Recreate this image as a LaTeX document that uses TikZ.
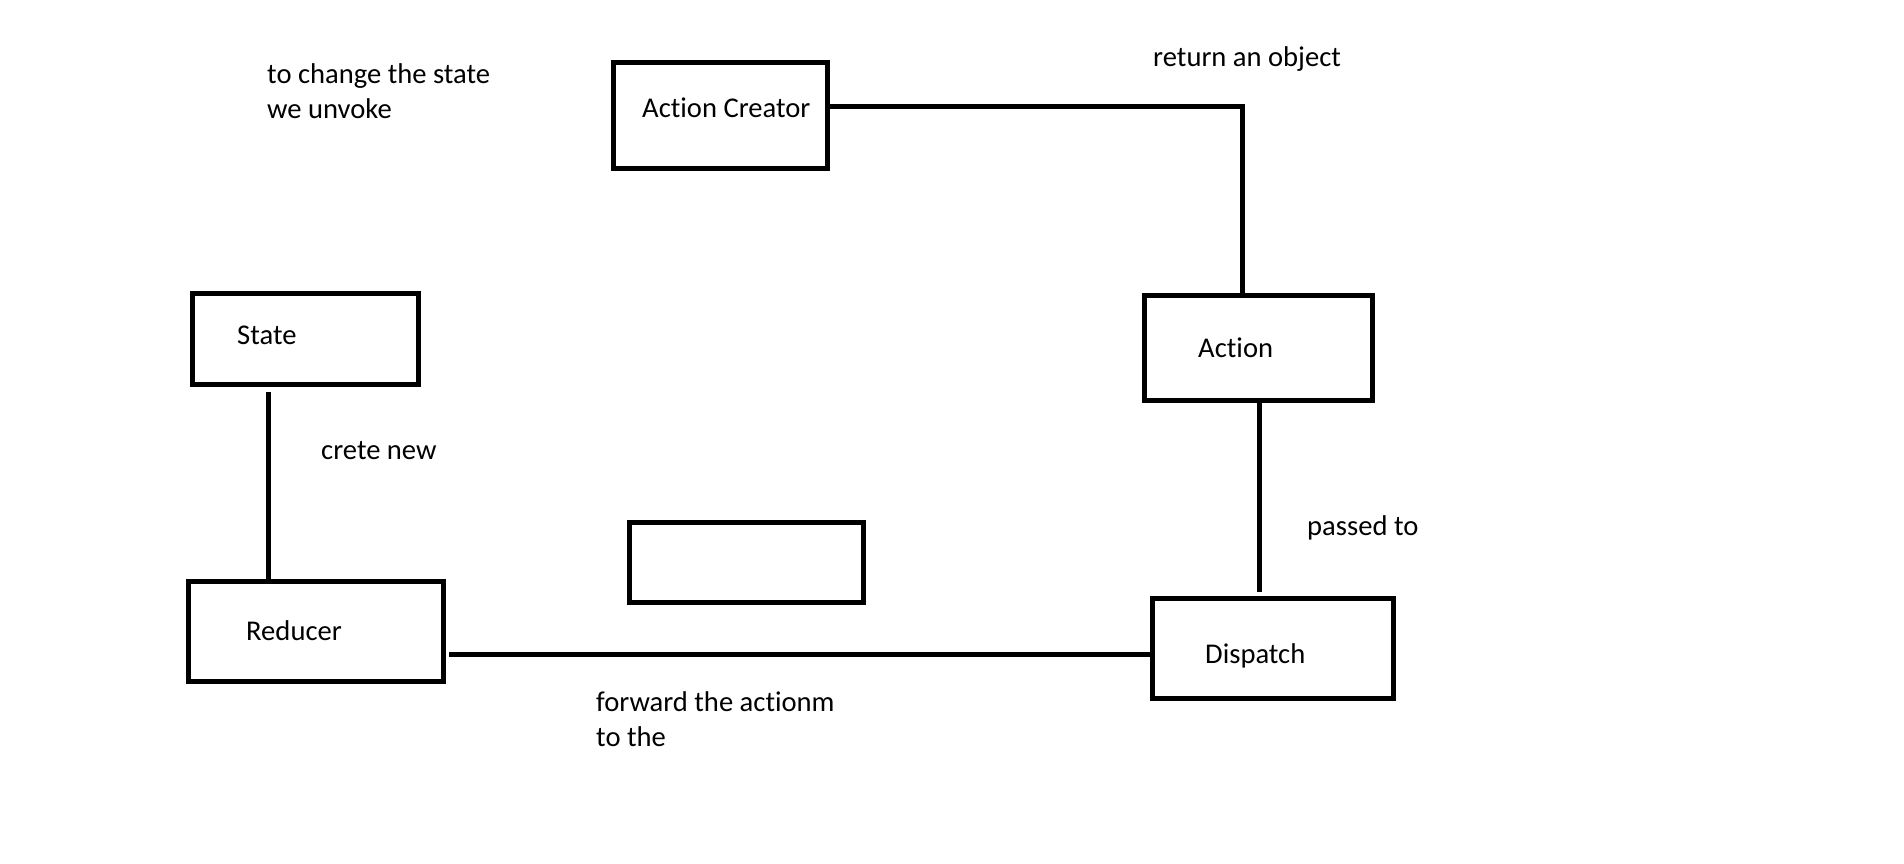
\documentclass[tikz,border=0pt]{standalone}
\usepackage{fontspec}
\setmainfont{Carlito}[Ligatures=NoCommon]
\begin{document}
\begin{tikzpicture}[x=1pt,y=-1pt,
  box/.style={draw=black,line width=5pt,rectangle,inner sep=0pt},
  lbl/.style={anchor=base west,inner sep=0pt,font=\fontsize{28.6}{35}\selectfont,align=left},
  conn/.style={draw=black,line width=5pt}]
\useasboundingbox (0,0) rectangle (1904,863);
% boxes
\node[box,minimum width=214pt,minimum height=106pt] (ac) at (720.5,115.5) {};
\node[box,minimum width=226pt,minimum height=91pt] (state) at (305.5,339) {};
\node[box,minimum width=228pt,minimum height=105pt] (act) at (1258.5,348) {};
\node[box,minimum width=234pt,minimum height=80pt] (empty) at (746.5,562.5) {};
\node[box,minimum width=255pt,minimum height=100pt] (red) at (316,631.5) {};
\node[box,minimum width=241pt,minimum height=100pt] (disp) at (1273,648.5) {};
% box texts
\node[lbl] (acT) at (642,117) {Action Creator};
\node[lbl] (stateT) at (237,344) {State};
\node[lbl] (actT) at (1198,357) {Action};
\node[lbl] (redT) at (246,640) {Reducer};
\node[lbl] (dispT) at (1205,663) {Dispatch};
% free labels (multi-line: base anchor is on the last line)
\node[lbl] (l1) at (267,118) {to change the state\\we unvoke};
\node[lbl] (l2) at (1153,66) {return an object};
\node[lbl] (l3) at (321,459) {crete new};
\node[lbl] (l4) at (1307,535) {passed to};
\node[lbl] (l5) at (596,746) {forward the actionm\\to the};
% connectors
\coordinate (a1) at (830,106);
\coordinate (a2) at (1242,106);
\draw[conn] (a1) -- (a2) -- (a2 |- act.north);
\coordinate (d1) at (1259,592);
\draw[conn] (d1 |- act.south) -- (d1);
\coordinate (s1) at (268.5,392);
\draw[conn] (s1) -- (s1 |- red.north);
\coordinate (r1) at (449,654);
\draw[conn] (r1) -- (r1 -| disp.west);
\end{tikzpicture}
\end{document}
